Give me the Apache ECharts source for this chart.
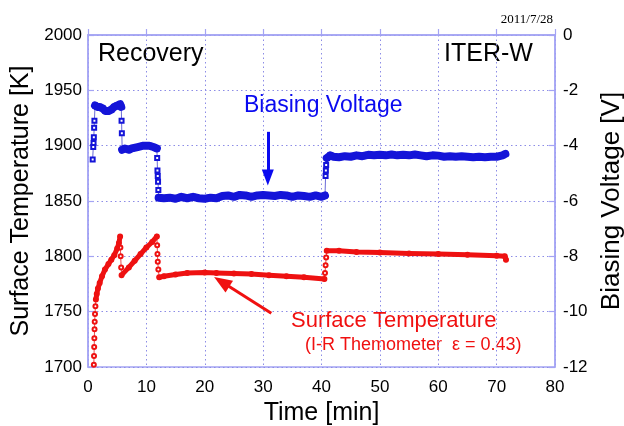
<!DOCTYPE html>
<html><head><meta charset="utf-8">
<script src="https://cdn.jsdelivr.net/npm/echarts@6/dist/echarts.min.js"></script>
<style>html,body{margin:0;padding:0;background:#fff}#c{width:624px;height:426px}</style>
</head><body><div id="c"></div>
<script>
// X axis ticks (min)
const timeTicks = [0, 10, 20, 30, 40, 50, 60, 70, 80];
const tempTicks = [1700, 1750, 1800, 1850, 1900, 1950, 2000];
const biasTicks = [-12, -10, -8, -6, -4, -2, 0];

// Surface temperature [K] vs time [min]
const tempTime = [1.00,1.03,1.06,1.09,1.12,1.15,1.20,1.27,1.35,1.5,1.7,2.0,2.4,2.9,3.5,4.0,4.5,5.0,5.3,5.5,
  5.55,5.6,5.68,5.75,7,8,9,10,11,11.8,
  11.85,11.9,11.95,12.05,12.2,13,15,17,20,22,25,28,31,34,37,40.5,
  40.6,40.7,40.8,40.9,43,46,50,55,60,65,70,71.4,71.6];
const tempK = [1702,1710,1718,1726,1734,1741,1748,1755,1761,1766,1771,1776,1782,1788,1793,1797,1801,1807,1812,1818,
  1808,1800,1790,1783,1790,1796,1802,1808,1813,1818,
  1810,1802,1795,1788,1781,1782,1783.5,1785,1785.5,1785,1784.5,1784,1783,1782,1781,1779.5,
  1785,1792,1799,1805,1805,1804,1803.5,1802.5,1802,1801.5,1800.5,1800,1797];
// sparse (transition) parts of the temperature record: [start, end] times
const tempSteps = [[1.0, 1.35], [5.5, 5.75], [11.8, 12.2], [40.5, 40.9]];

// Biasing voltage [V] vs time [min]
const biasTime = [0.8,0.9,0.95,1.0,1.05,1.1,1.2,1.6,2.0,2.5,3.0,3.5,4.0,4.5,5.0,5.5,5.7,
  5.75,5.8,5.85,6.3,7,7.5,8.5,9.5,10.5,11.2,11.8,
  11.85,11.9,11.95,12.0,12.05,12.1,13,14,15,16,17,18,19,20,21,22,23,24,25,26,27,28,29,30,31,32,33,34,35,36,37,38,39,40,40.6,
  40.7,40.75,40.8,40.9,41.5,42,43,44,45,46,47,48,49,50,51,52,53,54,55,56,57,58,59,60,61,62,63,64,65,66,67,68,69,70,71,71.5];
const biasV = [-4.5,-4.05,-3.9,-3.7,-3.35,-3.1,-2.55,-2.6,-2.6,-2.65,-2.75,-2.75,-2.7,-2.6,-2.55,-2.5,-2.6,
  -3.1,-3.55,-4.15,-4.1,-4.15,-4.1,-4.05,-4.0,-4.0,-4.05,-4.1,
  -4.45,-4.9,-5.1,-5.3,-5.6,-5.88,-5.9,-5.88,-5.92,-5.85,-5.9,-5.85,-5.9,-5.92,-5.88,-5.9,-5.82,-5.8,-5.85,-5.78,-5.8,-5.85,-5.8,-5.78,-5.8,-5.82,-5.78,-5.8,-5.85,-5.8,-5.82,-5.85,-5.8,-5.85,-5.8,
  -5.1,-4.9,-4.7,-4.45,-4.35,-4.4,-4.42,-4.38,-4.4,-4.35,-4.38,-4.33,-4.35,-4.33,-4.35,-4.32,-4.35,-4.33,-4.35,-4.32,-4.35,-4.38,-4.35,-4.36,-4.4,-4.38,-4.4,-4.38,-4.4,-4.42,-4.4,-4.42,-4.4,-4.4,-4.35,-4.3];
const biasSteps = [[0.8, 1.2], [5.7, 5.85], [11.8, 12.1], [40.6, 40.9]];

const pairs = (t, v) => t.map((x, i) => [x, v[i]]);
const thick = (t, v, steps) => t.map((x, i) =>
  steps.some(s => x > s[0] && x < s[1]) ? [x, '-'] : [x, v[i]]);

const FONT = '"Liberation Sans", Arial, sans-serif';
const axisCol = '#a4a4f4';
const gridCol = '#8c8ce6';
const red = '#ee1111', blue = '#1414d8';
const plain = v => String(v);

const chart = echarts.init(document.getElementById('c'), null, {renderer: 'canvas'});
chart.setOption({
  animation: false,
  backgroundColor: '#fff',
  grid: {left: 88, right: 69, top: 35, bottom: 59, outerBoundsMode: 'none', containLabel: false,
         show: true, borderColor: axisCol, borderWidth: 1.5, backgroundColor: 'transparent'},
  xAxis: {
    type: 'value', min: timeTicks[0], max: timeTicks[timeTicks.length - 1], interval: 10,
    name: 'Time [min]', nameLocation: 'middle', nameGap: 34,
    nameTextStyle: {fontFamily: FONT, fontSize: 25, color: '#000'},
    axisLine: {lineStyle: {color: axisCol, width: 1.5}},
    axisTick: {inside: true, length: 6, lineStyle: {color: axisCol, width: 1.2}},
    axisLabel: {fontFamily: FONT, fontSize: 17, color: '#000', margin: 12, formatter: plain},
    splitLine: {show: true, lineStyle: {color: gridCol, type: [1.5, 3], width: 1}}
  },
  yAxis: [{
    type: 'value', min: tempTicks[0], max: tempTicks[tempTicks.length - 1], interval: 50,
    name: 'Surface Temperature [K]', nameLocation: 'middle', nameGap: 47,
    nameTextStyle: {fontFamily: FONT, fontSize: 25, color: '#000'},
    axisLine: {show: true, lineStyle: {color: axisCol, width: 1.5}},
    axisTick: {inside: true, length: 6, lineStyle: {color: axisCol, width: 1.2}},
    axisLabel: {fontFamily: FONT, fontSize: 17, color: '#000', margin: 6, formatter: plain, padding: [3, 0, 0, 0]},
    splitLine: {show: true, lineStyle: {color: gridCol, type: [1.5, 3], width: 1}}
  }, {
    type: 'value', position: 'right', min: biasTicks[0], max: biasTicks[biasTicks.length - 1], interval: 2,
    name: 'Biasing Voltage [V]', nameLocation: 'middle', nameGap: 36, nameRotate: 90,
    nameTextStyle: {fontFamily: FONT, fontSize: 26, color: '#000'},
    axisLine: {show: true, lineStyle: {color: axisCol, width: 1.5}},
    axisTick: {inside: true, length: 6, lineStyle: {color: axisCol, width: 1.2}},
    axisLabel: {fontFamily: FONT, fontSize: 17, color: '#000', margin: 8, formatter: plain, padding: [3, 0, 0, 0]},
    splitLine: {show: false}
  }],
  series: [
    {type: 'line', yAxisIndex: 0, data: pairs(tempTime, tempK), z: 2,
     symbol: 'emptyCircle', symbolSize: 4, showAllSymbol: true,
     lineStyle: {color: '#e85050', width: 1}, itemStyle: {color: red, borderColor: '#e85050', borderWidth: 1}},
    {type: 'line', yAxisIndex: 0, data: thick(tempTime, tempK, tempSteps), z: 3,
     symbol: 'none', connectNulls: false, lineStyle: {color: red, width: 5, cap: 'round', join: 'round'}},
    {type: 'line', yAxisIndex: 1, data: pairs(biasTime, biasV), z: 2,
     symbol: 'emptyRect', symbolSize: 4, showAllSymbol: true,
     lineStyle: {color: '#6a6ad8', width: 1}, itemStyle: {color: blue, borderColor: '#5050d0', borderWidth: 1},
     markLine: {silent: true, symbol: ['none', 'triangle'], symbolSize: [12, 16], label: {show: false},
       lineStyle: {color: '#0a0af0', width: 3, type: 'solid'},
       data: [[{coord: [30.8, -3.5]}, {coord: [30.8, -5.15]}]]}},
    {type: 'line', yAxisIndex: 1, data: thick(biasTime, biasV, biasSteps), z: 3,
     symbol: 'none', connectNulls: false, lineStyle: {color: blue, width: 8, cap: 'round', join: 'round'}},
    {type: 'line', yAxisIndex: 0, data: [],
     markLine: {silent: true, symbol: ['none', 'triangle'], symbolSize: [14, 18], label: {show: false},
       lineStyle: {color: '#f01010', width: 3, type: 'solid'},
       data: [[{coord: [31.4, 1748.5]}, {coord: [22.9, 1777]}]]}}
  ],
  graphic: [
    {type: 'text', left: 98, top: 42, style: {text: 'Recovery', font: '25px ' + FONT, fill: '#000'}},
    {type: 'text', left: 444, top: 42, style: {text: 'ITER-W', font: '25px ' + FONT, fill: '#000'}},
    {type: 'text', right: 71, top: 13, style: {text: '2011/7/28', font: '13px "Liberation Serif", "Times New Roman", serif', fill: '#000'}},
    {type: 'text', left: 244, top: 94, style: {text: 'Biasing Voltage', font: '23px ' + FONT, fill: '#0a0af0'}},
    {type: 'text', left: 291, top: 310, style: {text: 'Surface Temperature', font: '22px ' + FONT, fill: '#f01010'}},
    {type: 'text', left: 305, top: 336, style: {text: '(I-R Themometer  ε = 0.43)', font: '18px ' + FONT, fill: '#f01010'}}
  ]
});
</script></body></html>
